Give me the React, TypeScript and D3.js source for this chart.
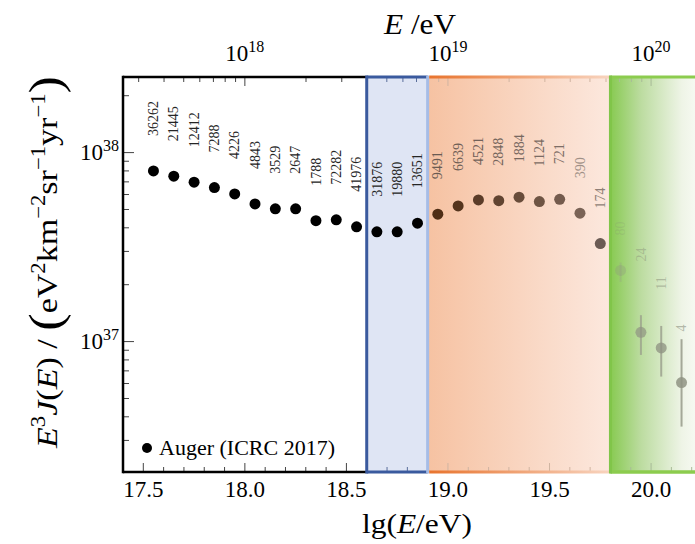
import * as d3 from "d3";

// Auger spectrum (ICRC 2017), E^3 J(E) in units of 1e37 eV^2 km^-2 sr^-1 yr^-1
const lgE = [
  17.55, 17.65, 17.75, 17.85, 17.95, 18.05, 18.15, 18.25, 18.35, 18.45, 18.55, 18.65, 18.75, 18.85,
  18.95, 19.05, 19.15, 19.25, 19.35, 19.45, 19.55, 19.65, 19.75, 19.85, 19.95, 20.05, 20.15,
];
const fluxE37 = [
  8.0, 7.5, 6.97, 6.53, 6.04, 5.35, 5.04, 5.04, 4.36, 4.41, 4.05, 3.81, 3.81, 4.23,
  4.72, 5.22, 5.62, 5.57, 5.81, 5.51, 5.66, 4.78, 3.3, 2.38, 1.12, 0.926, 0.607,
];
const eventCounts = [
  36262, 21445, 12412, 7288, 4226, 4843, 3529, 2647, 1788, 72282, 41976, 31876, 19880, 13651,
  9491, 6639, 4521, 2848, 1884, 1124, 721, 390, 174, 80, 24, 11, 4,
];

// error bars only visible at the highest energies
const errorLg = [19.75, 19.85, 19.95, 20.05, 20.15];
const errLowE37 = [3.12, 2.07, 0.85, 0.653, 0.355];
const errHighE37 = [3.5, 2.62, 1.38, 1.21, 1.03];

// count labels that sit higher than the default spot
const liftedLabelLg = [19.95, 20.05, 20.15];
const liftedLabelFluxE37 = [2.65, 1.88, 1.13];

// energy regions: ankle band, suppression band, beyond
const regionEdges = [18.6, 18.9, 19.8];

const bottomTicks = [17.5, 18.0, 18.5, 19.0, 19.5, 20.0];
const topExponents = [18, 19, 20];
const leftExponents = [37, 38];
const legendLabel = "Auger (ICRC 2017)";

const W = 695;
const H = 544;
const FONT = "'Liberation Serif', 'DejaVu Serif', serif";

const x = d3.scaleLinear().domain([17.4, 20.3]).range([123, 712]);
const y = d3.scaleLog().domain([Math.pow(10, 36.31), Math.pow(10, 38.4)]).range([472, 77]);
const top = 77;
const bottom = 472;

const orangeDot = d3.scaleLinear<string>().domain([18.95, 19.65, 19.75]).range(["#4f2d15", "#7a6356", "#6b5b54"]).clamp(true);
const orangeText = d3.scaleLinear<string>().domain([18.95, 19.55, 19.65, 19.75]).range(["#6b5b52", "#7e6e66", "#a09086", "#8f7f77"]).clamp(true);
const greenAlpha = d3.scaleLinear().domain([19.85, 19.95, 20.15]).range([0.3, 0.7, 0.85]).clamp(true);
const greenTextAlpha = d3.scaleLinear().domain([19.85, 19.95, 20.15]).range([0.2, 0.4, 0.55]).clamp(true);

function dotStyle(lg: number) {
  if (lg < regionEdges[1]) return { fill: "#000", opacity: 1 };
  if (lg < regionEdges[2]) return { fill: orangeDot(lg), opacity: 1 };
  return { fill: "#8f9382", opacity: greenAlpha(lg) };
}
function textStyle(lg: number) {
  if (lg < regionEdges[1]) return { fill: "#252525", opacity: 1 };
  if (lg < regionEdges[2]) return { fill: orangeText(lg), opacity: 1 };
  return { fill: "#7f8372", opacity: greenTextAlpha(lg) };
}
function tickColor(lg: number) {
  if (lg < regionEdges[0]) return "#444";
  if (lg < regionEdges[1]) return "#5a6e9a";
  if (lg < regionEdges[2]) return "#d0b4a2";
  return "#a9bb98";
}

export default function App() {
  const [b0, b1, b2] = regionEdges.map(x);
  const xEnd = x(20.3);

  const minorX = d3.range(17.4, 20.31, 0.1).map((v) => +v.toFixed(1));
  const logTicks: { lg: number; major: boolean }[] = [];
  for (let n = 17; n <= 20; n++) {
    for (let m = 1; m <= 9; m++) {
      const lg = n + Math.log10(m);
      if (lg > 17.41 && lg < 20.3) logTicks.push({ lg, major: m === 1 });
    }
  }
  const yTicks: { v: number; major: boolean }[] = [];
  for (let n = 36; n <= 38; n++) {
    for (let m = 1; m <= 9; m++) {
      const v = m * Math.pow(10, n);
      if (v > y.domain()[0] && v < y.domain()[1]) yTicks.push({ v, major: m === 1 });
    }
  }

  const labelY = (i: number) => {
    const k = liftedLabelLg.indexOf(lgE[i]);
    if (k >= 0) return y(liftedLabelFluxE37[k] * 1e37);
    return y(fluxE37[i] * 1e37) - 35;
  };

  return (
    <svg width={W} height={H} style={{ position: "absolute", left: 0, top: 0, background: "#fff" }} fontFamily={FONT}>
      <defs>
        <linearGradient id="orangeFill" x1="0" x2="1" y1="0" y2="0">
          <stop offset="0" stopColor="#f6c2a2" />
          <stop offset="1" stopColor="#fce8de" />
        </linearGradient>
        <linearGradient id="orangeEdge" x1="0" x2="1" y1="0" y2="0">
          <stop offset="0" stopColor="#e8742e" />
          <stop offset="1" stopColor="#f8d4bf" />
        </linearGradient>
        <linearGradient id="greenFill" x1="0" x2="1" y1="0" y2="0">
          <stop offset="0" stopColor="#88ca52" />
          <stop offset="0.3" stopColor="#bcdca0" />
          <stop offset="0.7" stopColor="#eef4e6" />
          <stop offset="1" stopColor="#ffffff" />
        </linearGradient>
      </defs>

      {/* region backgrounds */}
      <rect x={b0} y={top} width={b1 - b0} height={bottom - top} fill="#dfe5f4" />
      <rect x={b1} y={top} width={b2 - b1} height={bottom - top} fill="url(#orangeFill)" />
      <rect x={b2} y={top} width={xEnd - b2} height={bottom - top} fill="url(#greenFill)" />

      {/* ticks */}
      {minorX.map((v) => {
        const major = bottomTicks.some((t) => Math.abs(t - v) < 1e-6);
        return (
          <line key={"b" + v} x1={x(v)} x2={x(v)} y1={bottom} y2={bottom - (major ? 9 : 5)} stroke={tickColor(v)} strokeWidth={1} />
        );
      })}
      {logTicks.map((t) => (
        <line key={"t" + t.lg} x1={x(t.lg)} x2={x(t.lg)} y1={top} y2={top + (t.major ? 9 : 5)} stroke={tickColor(t.lg)} strokeWidth={1} />
      ))}
      {yTicks.map((t) => (
        <line key={"l" + t.v} x1={123} x2={123 + (t.major ? 11 : 6)} y1={y(t.v)} y2={y(t.v)} stroke="#444" strokeWidth={1} />
      ))}

      {/* frame: white part */}
      <line x1={123} x2={b0} y1={top} y2={top} stroke="#000" strokeWidth={2.5} />
      <line x1={123} x2={b0} y1={bottom} y2={bottom} stroke="#000" strokeWidth={2.5} />
      <line x1={123} x2={123} y1={top - 1.2} y2={bottom + 1.2} stroke="#000" strokeWidth={2.5} />
      {/* ankle band */}
      <line x1={b0} x2={b1} y1={top} y2={top} stroke="#3a5a9e" strokeWidth={3} />
      <line x1={b0} x2={b1} y1={bottom} y2={bottom} stroke="#3a5a9e" strokeWidth={3} />
      <line x1={b0} x2={b0} y1={top - 1.5} y2={bottom + 1.5} stroke="#3a5a9e" strokeWidth={3} />
      <line x1={b1} x2={b1} y1={top - 1.5} y2={bottom + 1.5} stroke="#a6bce6" strokeWidth={3} />
      {/* suppression band */}
      <rect x={b1 + 1.5} y={top - 1.5} width={b2 - b1 - 1.5} height={3} fill="url(#orangeEdge)" />
      <rect x={b1 + 1.5} y={bottom - 1.5} width={b2 - b1 - 1.5} height={3} fill="url(#orangeEdge)" />
      {/* beyond */}
      <line x1={b2} x2={xEnd} y1={top} y2={top} stroke="#8ccc4e" strokeWidth={3} />
      <line x1={b2} x2={xEnd} y1={bottom} y2={bottom} stroke="#8ccc4e" strokeWidth={3.5} />
      <line x1={b2} x2={b2} y1={top - 1.5} y2={bottom + 1.5} stroke="#80c54a" strokeWidth={3} />

      {/* error bars */}
      {errorLg.map((lg, i) => {
        const s = dotStyle(lg);
        return (
          <line key={"e" + lg} x1={x(lg)} x2={x(lg)} y1={y(errLowE37[i] * 1e37)} y2={y(errHighE37[i] * 1e37)}
            stroke={lg < regionEdges[2] ? s.fill : "#979a8a"} strokeOpacity={s.opacity} strokeWidth={2} />
        );
      })}

      {/* points */}
      {lgE.map((lg, i) => {
        const s = dotStyle(lg);
        return <circle key={"p" + lg} cx={x(lg)} cy={y(fluxE37[i] * 1e37)} r={5.5} fill={s.fill} fillOpacity={s.opacity} />;
      })}

      {/* event counts */}
      {lgE.map((lg, i) => {
        const s = textStyle(lg);
        return (
          <text key={"c" + lg} transform={`translate(${x(lg)},${labelY(i)}) rotate(-90)`} dy="0.33em"
            fontSize={14} fill={s.fill} fillOpacity={s.opacity}>
            {eventCounts[i]}
          </text>
        );
      })}

      {/* tick labels */}
      {bottomTicks.map((t) => (
        <text key={"bl" + t} x={x(t)} y={497} textAnchor="middle" fontSize={23}>{t.toFixed(1)}</text>
      ))}
      {topExponents.map((n) => (
        <text key={"tl" + n} x={x(n)} y={61} textAnchor="middle" fontSize={23}>
          10<tspan fontSize={16} dy={-9}>{n}</tspan>
        </text>
      ))}
      {leftExponents.map((n) => (
        <text key={"ll" + n} x={119} y={y(Math.pow(10, n)) + 7} textAnchor="end" fontSize={23}>
          10<tspan fontSize={16} dy={-9}>{n}</tspan>
        </text>
      ))}

      {/* legend */}
      <circle cx={147} cy={448} r={5} fill="#000" />
      <text x={159} y={455} fontSize={22}>{legendLabel}</text>

      {/* axis titles */}
      <text x={420} y={34} textAnchor="middle" fontSize={30} textLength={72} lengthAdjust="spacingAndGlyphs">
        <tspan fontStyle="italic">E</tspan> /eV
      </text>
      <text x={417} y={533} textAnchor="middle" fontSize={28} textLength={110} lengthAdjust="spacingAndGlyphs">
        lg(<tspan fontStyle="italic">E</tspan>/eV)
      </text>
      <text transform="translate(57,262) rotate(-90)" textAnchor="middle" fontSize={30} textLength={372} lengthAdjust="spacingAndGlyphs">
        <tspan fontStyle="italic">E</tspan>
        <tspan fontSize={20} dy={-12}>3</tspan>
        <tspan fontStyle="italic" dy={12}>J</tspan>(<tspan fontStyle="italic">E</tspan>) / <tspan fontSize={46} dy={4}>(</tspan>
        <tspan dy={-4}>eV</tspan>
        <tspan fontSize={20} dy={-12}>2</tspan>
        <tspan dy={12}>km</tspan>
        <tspan fontSize={20} dy={-12}>−2</tspan>
        <tspan dy={12}>sr</tspan>
        <tspan fontSize={20} dy={-12}>−1</tspan>
        <tspan dy={12}>yr</tspan>
        <tspan fontSize={20} dy={-12}>−1</tspan>
        <tspan fontSize={46} dy={16}>)</tspan>
      </text>
    </svg>
  );
}
